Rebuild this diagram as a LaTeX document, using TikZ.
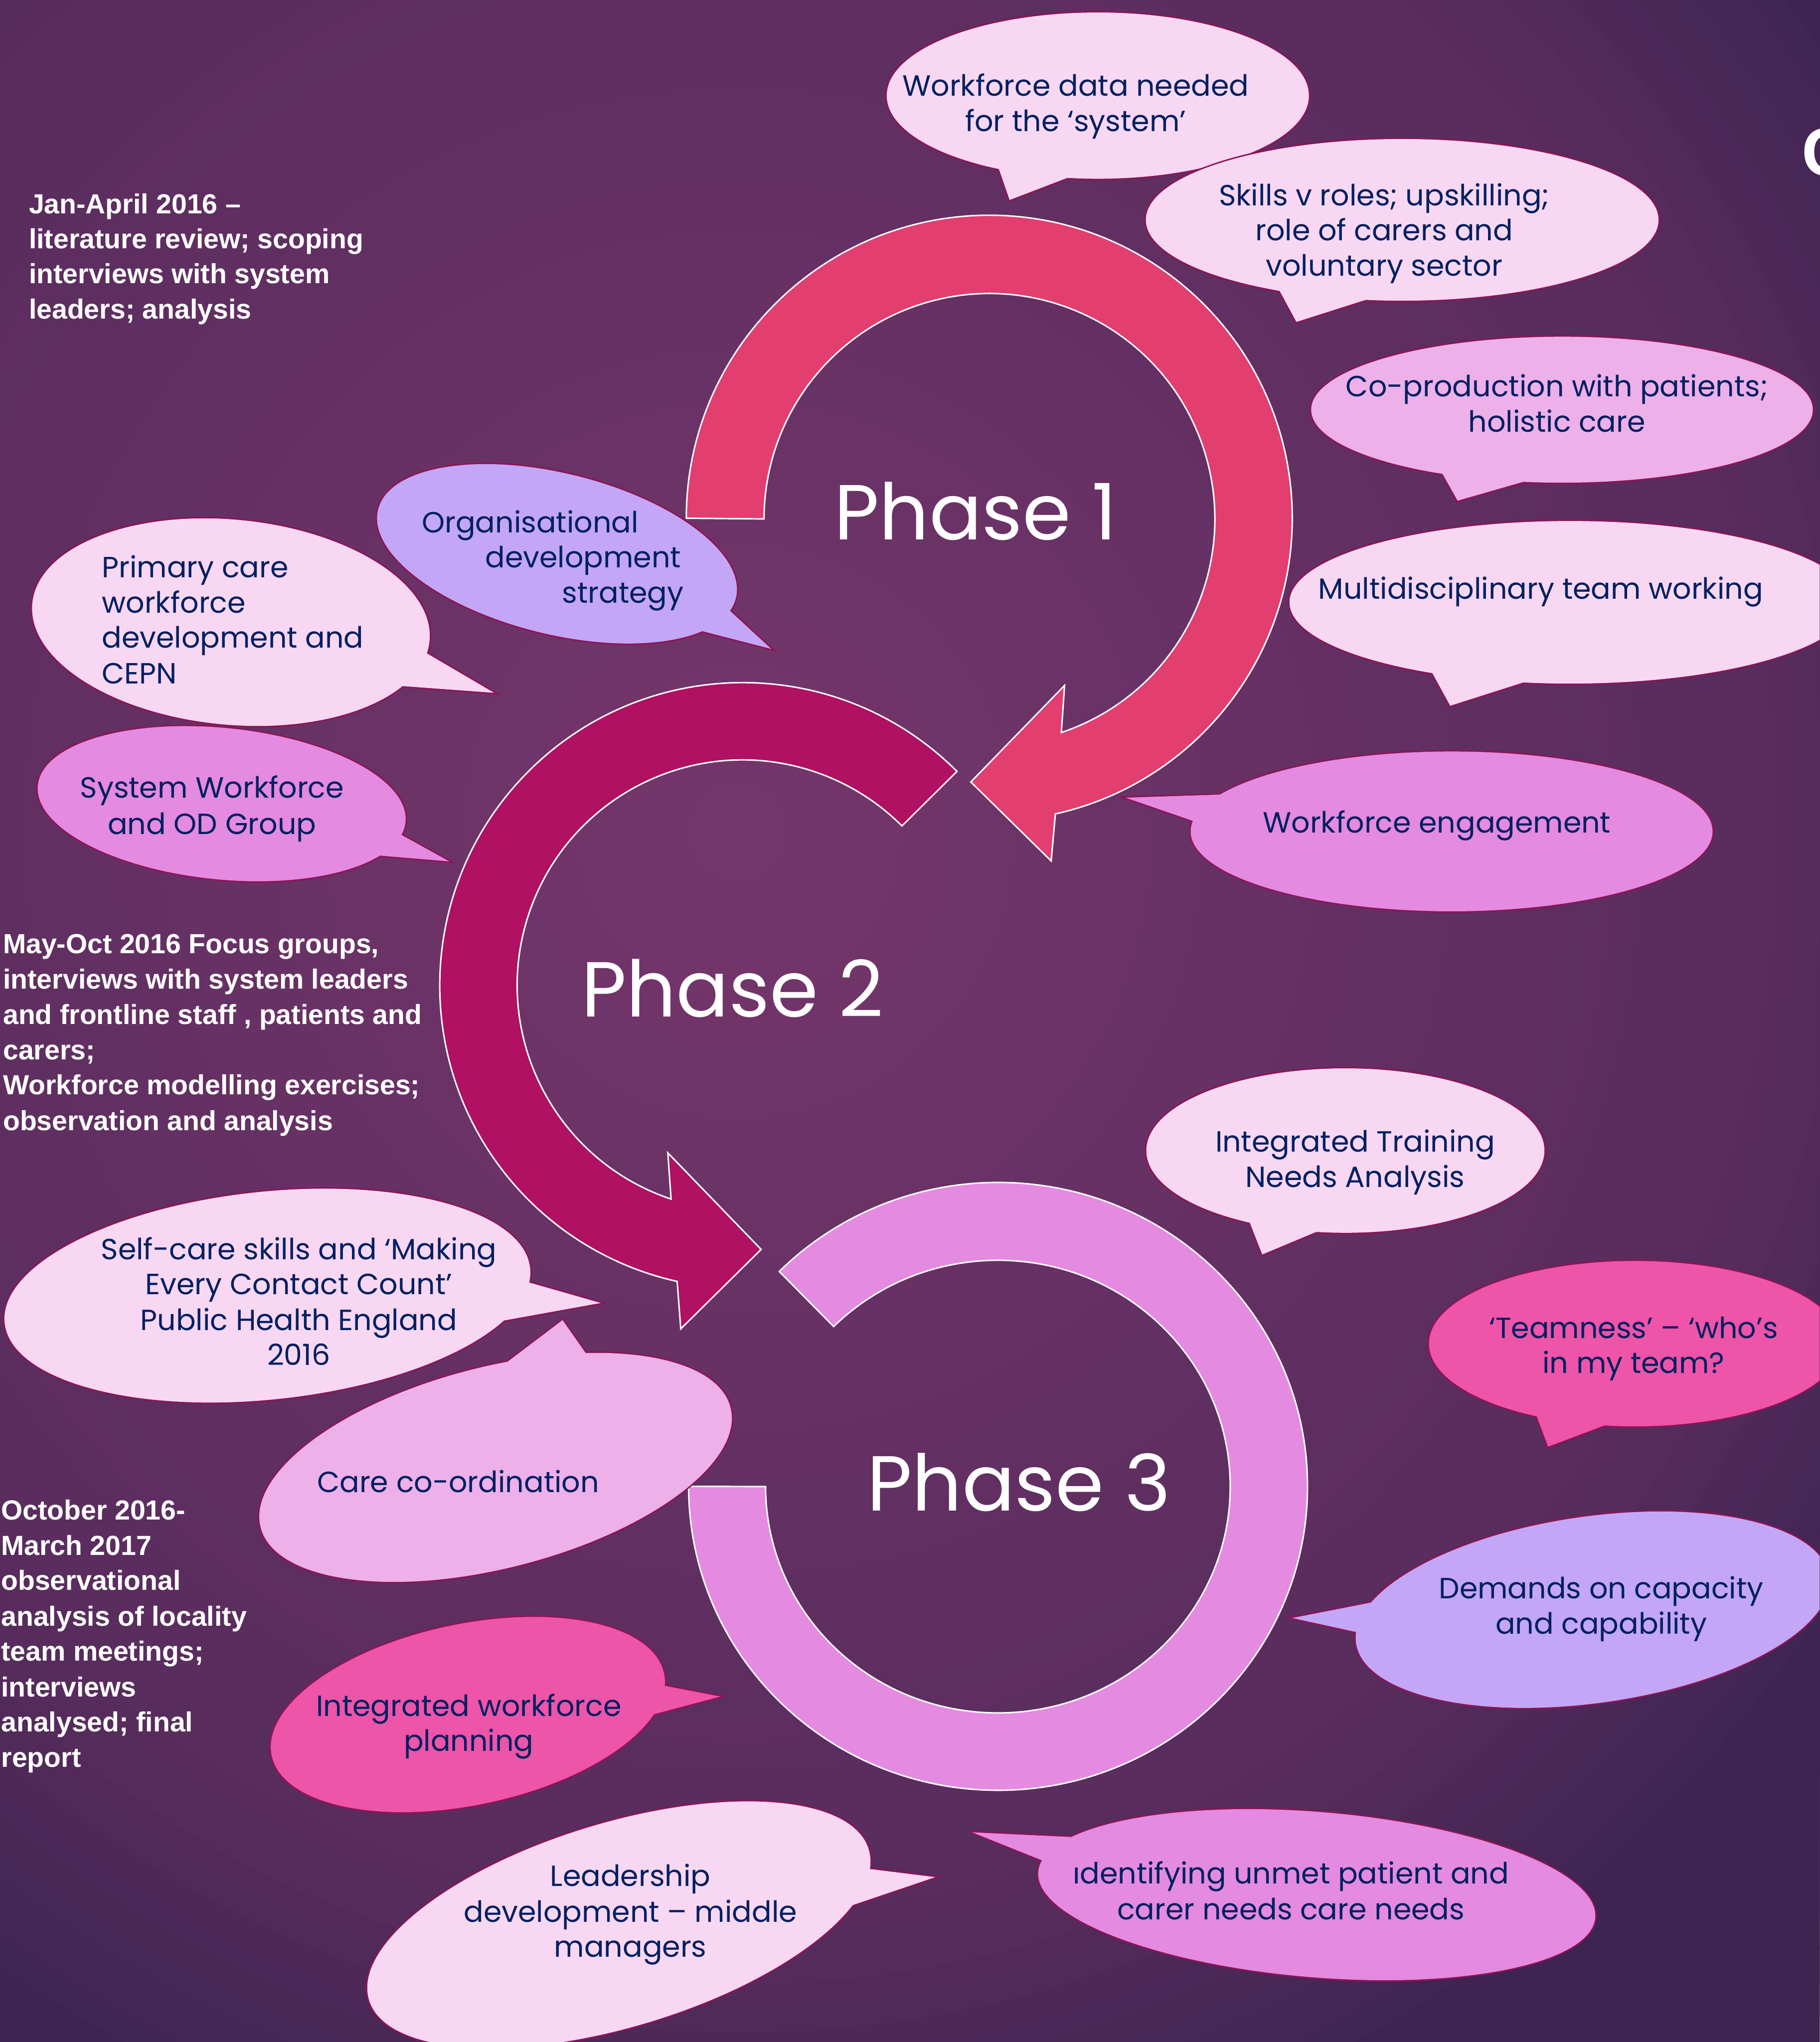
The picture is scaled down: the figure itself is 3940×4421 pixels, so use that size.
\documentclass[tikz,border=0pt]{standalone}
\usepackage{fontspec}
\newfontfamily\bfont{Poppins}
\newfontfamily\lfont{Liberation Sans}
\definecolor{bgA}{RGB}{118,54,108}
\definecolor{bgE}{RGB}{62,36,80}
\definecolor{ph1}{RGB}{226,62,111}
\definecolor{ph2}{RGB}{176,17,98}
\definecolor{ph3}{RGB}{228,138,224}
\definecolor{cLight}{RGB}{248,215,243}
\definecolor{cMed}{RGB}{237,176,233}
\definecolor{cOrch}{RGB}{228,138,224}
\definecolor{cLav}{RGB}{196,166,246}
\definecolor{cHot}{RGB}{238,84,168}
\definecolor{bordc}{RGB}{140,20,85}
\definecolor{tcol}{RGB}{0,32,96}
% #1 fill, #2 centre, #3 rotation, #4 x radius, #5 y radius, #6 base 1, #7 tip, #8 base 2
\newcommand{\bubble}[8]{%
  \draw[bstroke,rotate around={#3:#2}] #2 ellipse [x radius=#4, y radius=#5];
  \draw[bstroke] #6 -- #7 -- #8 -- #2 -- cycle;
  \fill[#1,rotate around={#3:#2}] #2 ellipse [x radius=#4, y radius=#5];
  \fill[#1] #6 -- #7 -- #8 -- #2 -- cycle;
}
\begin{document}
\begin{tikzpicture}[x=0.01cm,y=0.01cm,
  bstroke/.style={draw=bordc,line width=1.8pt,line join=miter,miter limit=6},
  arrowline/.style={draw=white,line width=0.9pt,line join=miter},
  btext/.style={font=\bfont\fontsize{18}{21.6}\selectfont,text=tcol,inner sep=0pt,anchor=base},
  ptext/.style={font=\bfont\fontsize{48}{58}\selectfont,text=white,inner sep=0pt,anchor=base},
  ltext/.style={font=\lfont\bfseries\fontsize{17}{21.6}\selectfont,text=white,inner sep=0pt,anchor=base west}]
\useasboundingbox (0,0) rectangle (3940,-4421);
\begin{scope}
\clip (0,0) rectangle (3940,-4421);
% background: layered radial gradient
\fill[bgE] (0,0) rectangle (3940,-4421);
\foreach \i in {70,69,...,1}{%
  \pgfmathsetmacro\t{\i*0.02}%
  \pgfmathsetmacro\p{\t<0.93 ? 60*\t : min(100,56+(\t-0.93)*183)}%
  \fill[bgE!\p!bgA] (1600,-1800) ellipse [x radius={2500*\t}, y radius={2600*\t}];
}

% Phase arrows
\draw[arrowline,fill=ph1] (1486,-1122) arc[start angle=180,end angle=-77.4,radius=656]
  -- (2276,-1864) -- (2102,-1693) -- (2305,-1484) -- (2298,-1586)
  arc[start angle=-71.4,end angle=180,radius=488] -- cycle;
\draw[arrowline,fill=ph2] (2072,-1670) arc[start angle=45,end angle=257.5,radius=656]
  -- (1474,-2877) -- (1648,-2705) -- (1446,-2496) -- (1453,-2596)
  arc[start angle=251.5,end angle=45,radius=488] -- cycle;
\draw[arrowline,fill=ph3] (1491,-3218) arc[start angle=180,end angle=495,x radius=670,y radius=658]
  -- (1805,-2872) arc[start angle=495,end angle=180,x radius=503,y radius=490] -- cycle;

\node[ptext] (p1) at (2112,-1168) {Phase 1};
\node[ptext] (p2) at (1586,-2201) {Phase 2};
\node[ptext] (p3) at (2206,-3271) {Phase 3};

% Bubbles
\bubble{cLight}{(2377,-207)}{0}{457}{180}{(2160,-358)}{(2186,-433)}{(2319,-382)}
\bubble{cLight}{(3036,-476)}{0}{555}{175}{(2768,-625)}{(2807,-697)}{(2964,-647)}
\bubble{cMed}{(3382,-887)}{0}{543}{158}{(3120,-1020)}{(3156,-1084)}{(3309,-1040)}
\bubble{cLight}{(3400,-1304)}{0}{608}{176}{(3100,-1455)}{(3140,-1528)}{(3306,-1475)}
\bubble{cOrch}{(3143,-1800)}{0}{565}{173}{(2652,-1720)}{(2437,-1727)}{(2585,-1778)}
\bubble{cLight}{(2913,-2491)}{0}{431}{178}{(2704,-2642)}{(2733,-2716)}{(2855,-2665)}
\bubble{cHot}{(3540,-2909)}{0}{446}{179}{(3325,-3060)}{(3352,-3132)}{(3482,-3083)}
\bubble{cLav}{(3448,-3485)}{8}{517}{202}{(2992,-3465)}{(2798,-3503)}{(2944,-3535)}
\bubble{cOrch}{(2851,-4102)}{-4.7}{605}{179}{(2338,-3978)}{(2105,-3967)}{(2262,-4030)}
\bubble{cLight}{(1340,-4167)}{16.75}{565}{221}{(1872,-4045)}{(2025,-4064)}{(1830,-4130)}
\bubble{cHot}{(1013,-3712)}{11.8}{434}{196}{(1430,-3648)}{(1560,-3673)}{(1402,-3715)}
\bubble{cMed}{(1073,-3177)}{14.3}{525}{218}{(1090,-2955)}{(1218,-2858)}{(1272,-2935)}
\bubble{cLight}{(579,-2805)}{5.95}{572}{225}{(1140,-2775)}{(1301,-2821)}{(1085,-2860)}
\bubble{cOrch}{(480,-1740)}{-5.7}{400}{164}{(870,-1808)}{(973,-1865)}{(818,-1852)}
\bubble{cLight}{(500,-1347)}{-5.4}{432}{222}{(920,-1412)}{(1070,-1500)}{(866,-1485)}
\bubble{cLav}{(1206,-1199)}{-13.9}{399}{174}{(1580,-1322)}{(1670,-1405)}{(1515,-1365)}

% Bubble texts
\node[btext] (b1a) at (2329,-208) {Workforce data needed};
\node[btext] (b1b) at (2329,-284) {for the ‘system’};
\node[btext] (b2a) at (2997,-445) {Skills v roles; upskilling;};
\node[btext] (b2b) at (2997,-521) {role of carers and};
\node[btext] (b2c) at (2997,-597) {voluntary sector};
\node[btext] (b3a) at (3371,-859) {Co-production with patients;};
\node[btext] (b3b) at (3371,-935) {holistic care};
\node[btext] (b4a) at (3336,-1297) {Multidisciplinary team working};
\node[btext] (b5a) at (3111,-1803) {Workforce engagement};
\node[btext] (b6a) at (2934,-2494) {Integrated Training};
\node[btext] (b6b) at (2934,-2570) {Needs Analysis};
\node[btext] (b7a) at (3537,-2897) {‘Teamness’ – ‘who’s};
\node[btext] (b7b) at (3537,-2973) {in my team?};
\node[btext] (b8a) at (3467,-3461) {Demands on capacity};
\node[btext] (b8b) at (3467,-3538) {and capability};
\node[btext] (b9a) at (2795,-4078) {ıdentifying unmet patient and};
\node[btext] (b9b) at (2795,-4156) {carer needs care needs};
\node[btext] (b10a) at (1365,-4084) {Leadership};
\node[btext] (b10b) at (1365,-4161) {development – middle};
\node[btext] (b10c) at (1365,-4237) {managers};
\node[btext] (b11a) at (1015,-3716) {Integrated workforce};
\node[btext] (b11b) at (1015,-3791) {planning};
\node[btext] (b12a) at (992,-3231) {Care co-ordination};
\node[btext] (b13a) at (647,-2727) {Self-care skills and ‘Making};
\node[btext] (b13b) at (647,-2803) {Every Contact Count’};
\node[btext] (b13c) at (647,-2880) {Public Health England};
\node[btext] (b13d) at (647,-2956) {2016};
\node[btext] (b14a) at (459,-1727) {System Workforce};
\node[btext] (b14b) at (459,-1806) {and OD Group};
\node[btext,anchor=base west] (b15a) at (220,-1250) {Primary care};
\node[btext,anchor=base west] (b15b) at (220,-1327) {workforce};
\node[btext,anchor=base west] (b15c) at (220,-1403) {development and};
\node[btext,anchor=base west] (b15d) at (220,-1480) {CEPN};
\node[btext,anchor=base east] (b16a) at (1383,-1153) {Organisational};
\node[btext,anchor=base east] (b16b) at (1475,-1229) {development};
\node[btext,anchor=base east] (b16c) at (1481,-1305) {strategy};

% Timeline texts
\node[ltext] (t1a) at (62,-462) {Jan-April 2016 –};
\node[ltext] (t1b) at (62,-538) {literature review; scoping};
\node[ltext] (t1c) at (62,-614) {interviews with system};
\node[ltext] (t1d) at (62,-690) {leaders; analysis};

\node[ltext] (t2a) at (6,-2064) {May-Oct 2016 Focus groups,};
\node[ltext] (t2b) at (6,-2141) {interviews with system leaders};
\node[ltext] (t2c) at (6,-2217) {and frontline staff , patients and};
\node[ltext] (t2d) at (6,-2294) {carers;};
\node[ltext] (t2e) at (6,-2370) {Workforce modelling exercises;};
\node[ltext] (t2f) at (6,-2447) {observation and analysis};

\node[ltext] (t3a) at (2,-3290) {October 2016-};
\node[ltext] (t3b) at (2,-3367) {March 2017};
\node[ltext] (t3c) at (2,-3443) {observational};
\node[ltext] (t3d) at (2,-3520) {analysis of locality};
\node[ltext] (t3e) at (2,-3596) {team meetings;};
\node[ltext] (t3f) at (2,-3673) {interviews};
\node[ltext] (t3g) at (2,-3749) {analysed; final};
\node[ltext] (t3h) at (2,-3826) {report};

\node[font=\lfont\bfseries\fontsize{42}{50}\selectfont,text=white,inner sep=0pt,anchor=base west] (cc) at (3901,-380) {C};
\end{scope}
\end{tikzpicture}
\end{document}
